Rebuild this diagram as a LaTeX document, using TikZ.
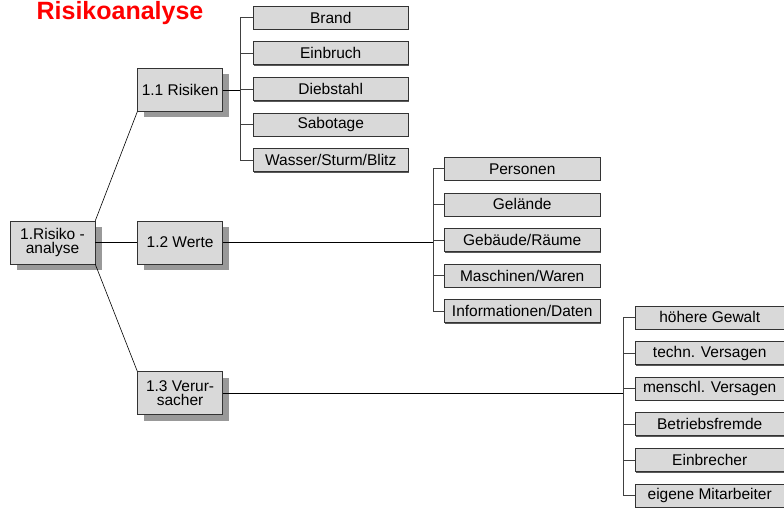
\documentclass[tikz,border=0pt]{standalone}
\usepackage{fontspec}
\setmainfont{Liberation Sans}
\usepackage{tikz}
\usetikzlibrary{positioning,shadows}

\begin{document}
\begin{tikzpicture}[x=1pt, y=1pt, node distance=12pt, line width=0.6pt,
    box/.style={draw=black!80, fill=black!15, minimum width=85pt, minimum height=43pt,
      inner sep=1pt, align=center, font=\fontsize{15.5}{14}\selectfont,
      drop shadow={shadow xshift=6.5pt, shadow yshift=-6pt, fill=black!40, opacity=1}},
    item/.style={draw=black!80, fill=black!15, minimum width=#1, minimum height=23pt,
      inner sep=1pt, font=\fontsize{15.5}{15.5}\selectfont,
      drop shadow={shadow xshift=1.2pt, shadow yshift=-1.2pt, fill=black!65, opacity=1}},
    item/.default=155pt,
    bus/.style={draw=black!75}]
        \useasboundingbox (0,0) rectangle (784,512);

        \node[anchor=base west, text=red, font=\fontsize{25}{26}\bfseries\selectfont] (T) at (33,492) {Risikoanalyse};

        \node[box] (A) at (52.5,269.5) {1.Risiko -\\analyse};
        \node[box] (C) [right=42pt of A] {1.2 Werte};
        \node[box] (B) [above=109pt of C] {1.1 Risiken};
        \node[box] (D) [below=107pt of C] {1.3 Verur-\\sacher};

        % Risiken
        \node[item] (B3) [right=30pt of B, yshift=1pt] {Diebstahl};
        \node[item] (B2) [above=of B3] {Einbruch};
        \node[item] (B1) [above=of B2] {Brand};
        \node[item] (B4) [below=of B3] {Sabotage};
        \node[item] (B5) [below=of B4] {Wasser/Sturm/Blitz};

        % Werte
        \node[item=156pt] (C3) [right=221pt of C, yshift=2.5pt] {Gebäude/Räume};
        \node[item=156pt] (C2) [above=of C3] {Gelände};
        \node[item=156pt] (C1) [above=of C2] {Personen};
        \node[item=156pt] (C4) [below=of C3] {Maschinen/Waren};
        \node[item=156pt] (C5) [below=of C4] {Informationen/Daten};

        % Verursacher
        \node[item=149pt] (D3) [right=412pt of D, yshift=4.5pt] {menschl. Versagen};
        \node[item=149pt] (D2) [above=of D3] {techn. Versagen};
        \node[item=149pt] (D1) [above=of D2] {höhere Gewalt};
        \node[item=149pt] (D4) [below=of D3] {Betriebsfremde};
        \node[item=149pt] (D5) [below=of D4] {Einbrecher};
        \node[item=149pt] (D6) [below=of D5] {eigene Mitarbeiter};

        \path
          (A.north east) edge (B.south west)
          (A.east) edge (C.west)
          (A.south east) edge (D.north west);

        \coordinate (b) at ([xshift=-13pt]B1.west);
        \coordinate (c) at ([xshift=-11pt]C1.west);
        \coordinate (d) at ([xshift=-12pt]D1.west);

        \draw[bus] (B1.west) -- (b) |- (B5.west);
        \draw[bus] (C1.west) -- (c) |- (C5.west);
        \draw[bus] (D1.west) -- (d) |- (D6.west);
        \foreach \n in {B2,B3,B4} \draw[bus] (\n.west) -- (\n.west -| b);
        \foreach \n in {C2,C3,C4} \draw[bus] (\n.west) -- (\n.west -| c);
        \foreach \n in {D2,D3,D4,D5} \draw[bus] (\n.west) -- (\n.west -| d);

        \draw (B.east) -- (B.east -| b);
        \draw (C.east) -- (C.east -| c);
        \draw (D.east) -- (D.east -| d);
\end{tikzpicture}
\end{document}
